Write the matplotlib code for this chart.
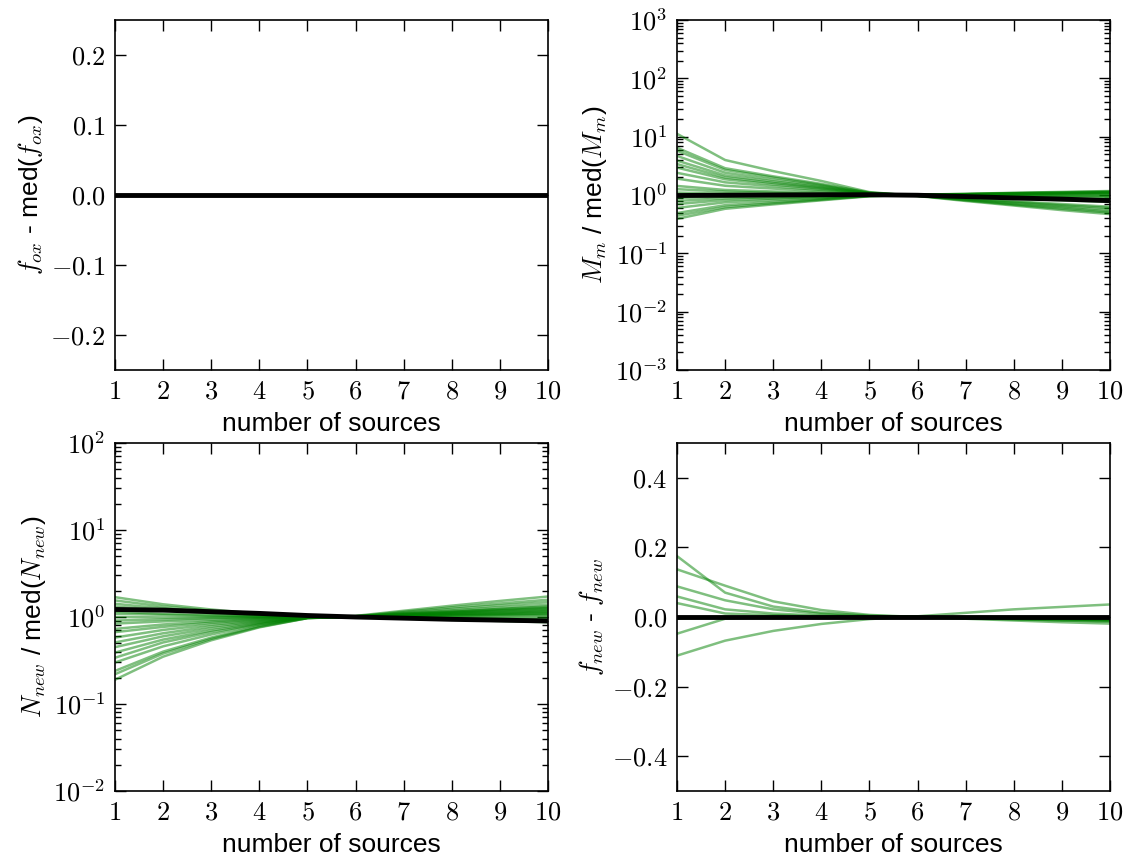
import numpy as np
import matplotlib
matplotlib.use('Agg')
import matplotlib.pyplot as plt
from matplotlib.ticker import FuncFormatter, LogLocator, NullFormatter

plt.rcParams['font.family'] = ['Liberation Sans', 'DejaVu Sans']
plt.rcParams['mathtext.fontset'] = 'cm'

# number of sources
n_src = [1, 2, 3, 4, 5, 6, 7, 8, 9, 10]

# f_ox - med(f_ox): all runs identical
fox_median = [0, 0, 0, 0, 0, 0, 0, 0, 0, 0]

# M_m / med(M_m)
mm_runs = [
    [11.2, 3.98, 2.57, 1.74, 1.12, 0.96, 0.79, 0.66, 0.55, 0.47],
    [6.46, 2.88, 2.09, 1.55, 1.10, 0.97, 0.81, 0.68, 0.58, 0.50],
    [5.75, 2.69, 1.99, 1.49, 1.09, 0.97, 0.82, 0.70, 0.61, 0.52],
    [4.68, 2.41, 1.83, 1.43, 1.08, 0.97, 0.84, 0.73, 0.64, 0.56],
    [3.89, 2.17, 1.70, 1.37, 1.07, 0.97, 0.86, 0.76, 0.67, 0.60],
    [3.39, 2.00, 1.61, 1.32, 1.06, 0.98, 0.87, 0.78, 0.70, 0.63],
    [2.95, 1.86, 1.52, 1.28, 1.06, 0.99, 0.92, 0.86, 0.81, 0.76],
    [2.40, 1.65, 1.41, 1.22, 1.04, 0.99, 0.95, 0.90, 0.87, 0.83],
    [1.91, 1.44, 1.29, 1.16, 1.03, 1.01, 1.03, 1.07, 1.09, 1.12],
    [1.43, 1.22, 1.15, 1.09, 1.02, 1.00, 0.99, 0.98, 0.97, 0.96],
    [1.26, 1.14, 1.09, 1.05, 1.01, 1.00, 1.02, 1.04, 1.06, 1.07],
    [1.10, 1.05, 1.04, 1.02, 1.00, 1.01, 1.04, 1.08, 1.11, 1.15],
    [0.89, 0.94, 0.96, 0.97, 0.99, 0.99, 0.97, 0.94, 0.91, 0.89],
    [0.79, 0.88, 0.91, 0.95, 0.99, 1.00, 1.01, 1.03, 1.04, 1.05],
    [0.70, 0.82, 0.87, 0.92, 0.98, 1.01, 1.05, 1.09, 1.13, 1.17],
    [0.60, 0.75, 0.82, 0.89, 0.97, 1.00, 1.03, 1.05, 1.07, 1.10],
    [0.49, 0.67, 0.76, 0.85, 0.96, 1.00, 0.99, 0.97, 0.96, 0.95],
    [0.44, 0.62, 0.72, 0.83, 0.96, 1.00, 1.00, 1.01, 1.02, 1.03],
    [0.39, 0.58, 0.69, 0.81, 0.95, 1.01, 1.03, 1.07, 1.09, 1.12],
]
mm_median = [0.98, 0.99, 1.00, 1.01, 1.01, 0.99, 0.94, 0.89, 0.85, 0.80]

# N_new / med(N_new)
nnew_runs = [
    [1.69, 1.40, 1.22, 1.09, 1.01, 0.99, 0.97, 0.94, 0.91, 0.89],
    [1.55, 1.32, 1.18, 1.08, 1.01, 1.00, 0.98, 0.96, 0.95, 0.93],
    [1.42, 1.25, 1.14, 1.06, 1.01, 0.99, 0.96, 0.93, 0.90, 0.87],
    [1.32, 1.19, 1.11, 1.05, 1.01, 1.00, 1.00, 0.99, 0.99, 1.00],
    [1.15, 1.09, 1.05, 1.02, 1.00, 1.00, 1.01, 1.03, 1.04, 1.05],
    [1.09, 1.06, 1.03, 1.01, 1.00, 1.00, 0.99, 0.97, 0.96, 0.95],
    [1.00, 0.99, 0.99, 1.00, 1.00, 1.01, 1.04, 1.07, 1.09, 1.12],
    [0.91, 0.94, 0.97, 0.98, 1.00, 1.00, 1.02, 1.04, 1.06, 1.07],
    [0.84, 0.89, 0.93, 0.97, 1.00, 1.01, 1.06, 1.11, 1.15, 1.20],
    [0.73, 0.82, 0.89, 0.95, 0.99, 1.01, 1.04, 1.08, 1.11, 1.15],
    [0.67, 0.77, 0.86, 0.93, 0.99, 1.01, 1.07, 1.13, 1.20, 1.26],
    [0.58, 0.71, 0.82, 0.91, 0.99, 1.00, 1.03, 1.05, 1.07, 1.10],
    [0.51, 0.65, 0.78, 0.89, 0.99, 1.01, 1.09, 1.16, 1.24, 1.32],
    [0.45, 0.60, 0.74, 0.87, 0.98, 1.01, 1.05, 1.09, 1.13, 1.17],
    [0.39, 0.55, 0.70, 0.85, 0.98, 1.02, 1.10, 1.19, 1.29, 1.38],
    [0.34, 0.51, 0.67, 0.83, 0.98, 1.01, 1.06, 1.12, 1.18, 1.23],
    [0.30, 0.46, 0.63, 0.82, 0.98, 1.02, 1.12, 1.24, 1.36, 1.48],
    [0.24, 0.40, 0.58, 0.79, 0.97, 1.01, 1.08, 1.15, 1.22, 1.29],
    [0.22, 0.38, 0.56, 0.77, 0.97, 1.02, 1.15, 1.29, 1.43, 1.58],
    [0.19, 0.35, 0.54, 0.76, 0.97, 1.03, 1.18, 1.35, 1.53, 1.72],
]
nnew_median = [1.22, 1.20, 1.15, 1.10, 1.04, 1.00, 0.97, 0.94, 0.92, 0.90]

# f_new - f_new
fnew_runs = [
    [0.175, 0.070, 0.030, 0.012, 0.004, 0.0, -0.003, -0.005, -0.007, -0.009],
    [0.137, 0.090, 0.045, 0.020, 0.006, 0.0, -0.004, -0.007, -0.010, -0.013],
    [0.088, 0.048, 0.022, 0.009, 0.002, 0.0, -0.005, -0.010, -0.015, -0.019],
    [0.059, 0.022, 0.010, 0.004, 0.001, 0.0, -0.002, -0.004, -0.006, -0.008],
    [0.040, 0.010, 0.005, 0.002, 0.000, 0.0, -0.003, -0.006, -0.009, -0.012],
    [-0.005, 0.0, 0.0, 0.0, 0.0, 0.0, -0.001, -0.003, -0.004, -0.005],
    [-0.048, -0.005, 0.0, 0.0, 0.0, 0.0, -0.002, -0.004, -0.006, -0.010],
    [-0.111, -0.068, -0.040, -0.020, -0.006, 0.002, 0.012, 0.022, 0.029, 0.036],
]
fnew_median = [0, 0, 0, 0, 0, 0, 0, 0, 0, 0]

green = (0.0, 0.5, 0.0)
fs = 19

fig = plt.figure(figsize=(11.26, 8.58), dpi=100)
L1, L2, W = 115 / 1126, 677 / 1126, 433 / 1126
H = 350 / 858
ax1 = fig.add_axes([L1, 1 - 370 / 858, W, H])
ax2 = fig.add_axes([L2, 1 - 370 / 858, W, H])
ax3 = fig.add_axes([L1, 1 - 791 / 858, W, 348 / 858])
ax4 = fig.add_axes([L2, 1 - 791 / 858, W, 348 / 858])

lin_fmt = FuncFormatter(lambda v, p: r'$%.1f$' % v)
int_fmt = FuncFormatter(lambda v, p: r'$%d$' % round(v))
log_fmt = FuncFormatter(lambda v, p: r'$10^{%d}$' % round(np.log10(v)))


def style(ax, log=False):
    ax.set_xlim(1, 10)
    ax.set_xticks(n_src)
    ax.xaxis.set_major_formatter(int_fmt)
    ax.tick_params(which='both', direction='in', top=True, right=True,
                   labelsize=fs, pad=7)
    ax.tick_params(which='major', length=8, width=1)
    ax.tick_params(which='minor', length=4, width=1)
    if log:
        ax.set_yscale('log')
        ax.yaxis.set_major_locator(LogLocator(base=10, numticks=20))
        ax.yaxis.set_minor_locator(LogLocator(base=10, subs=np.arange(2, 10), numticks=20))
        ax.yaxis.set_minor_formatter(NullFormatter())
        ax.yaxis.set_major_formatter(log_fmt)
    else:
        ax.yaxis.set_major_formatter(lin_fmt)
    ax.set_xlabel('number of sources', fontsize=fs, labelpad=6)
    for sp in ax.spines.values():
        sp.set_linewidth(1.2)


# top-left
ax1.plot(n_src, fox_median, color='k', lw=3.5)
style(ax1)
ax1.set_ylim(-0.25, 0.25)
ax1.set_yticks([-0.2, -0.1, 0.0, 0.1, 0.2])
ax1.set_ylabel(r'$f_{ox}$ - med($f_{ox}$)', fontsize=fs)

# top-right
for run in mm_runs:
    ax2.plot(n_src, run, color=green, alpha=0.5, lw=1.8)
ax2.plot(n_src, mm_median, color='k', lw=3.5)
style(ax2, log=True)
ax2.set_ylim(1e-3, 1e3)
ax2.set_ylabel(r'$M_m$ / med($M_m$)', fontsize=fs)

# bottom-left
for run in nnew_runs:
    ax3.plot(n_src, run, color=green, alpha=0.5, lw=1.8)
ax3.plot(n_src, nnew_median, color='k', lw=3.5)
style(ax3, log=True)
ax3.set_ylim(1e-2, 1e2)
ax3.set_ylabel(r'$N_{new}$ / med($N_{new}$)', fontsize=fs)

# bottom-right
for run in fnew_runs:
    ax4.plot(n_src, run, color=green, alpha=0.5, lw=1.8)
ax4.plot(n_src, fnew_median, color='k', lw=3.5)
style(ax4)
ax4.set_ylim(-0.5, 0.5)
ax4.set_yticks([-0.4, -0.2, 0.0, 0.2, 0.4])
ax4.set_ylabel(r'$f_{new}$ - $f_{new}$', fontsize=fs)

fig.savefig('out.png', dpi=100)
